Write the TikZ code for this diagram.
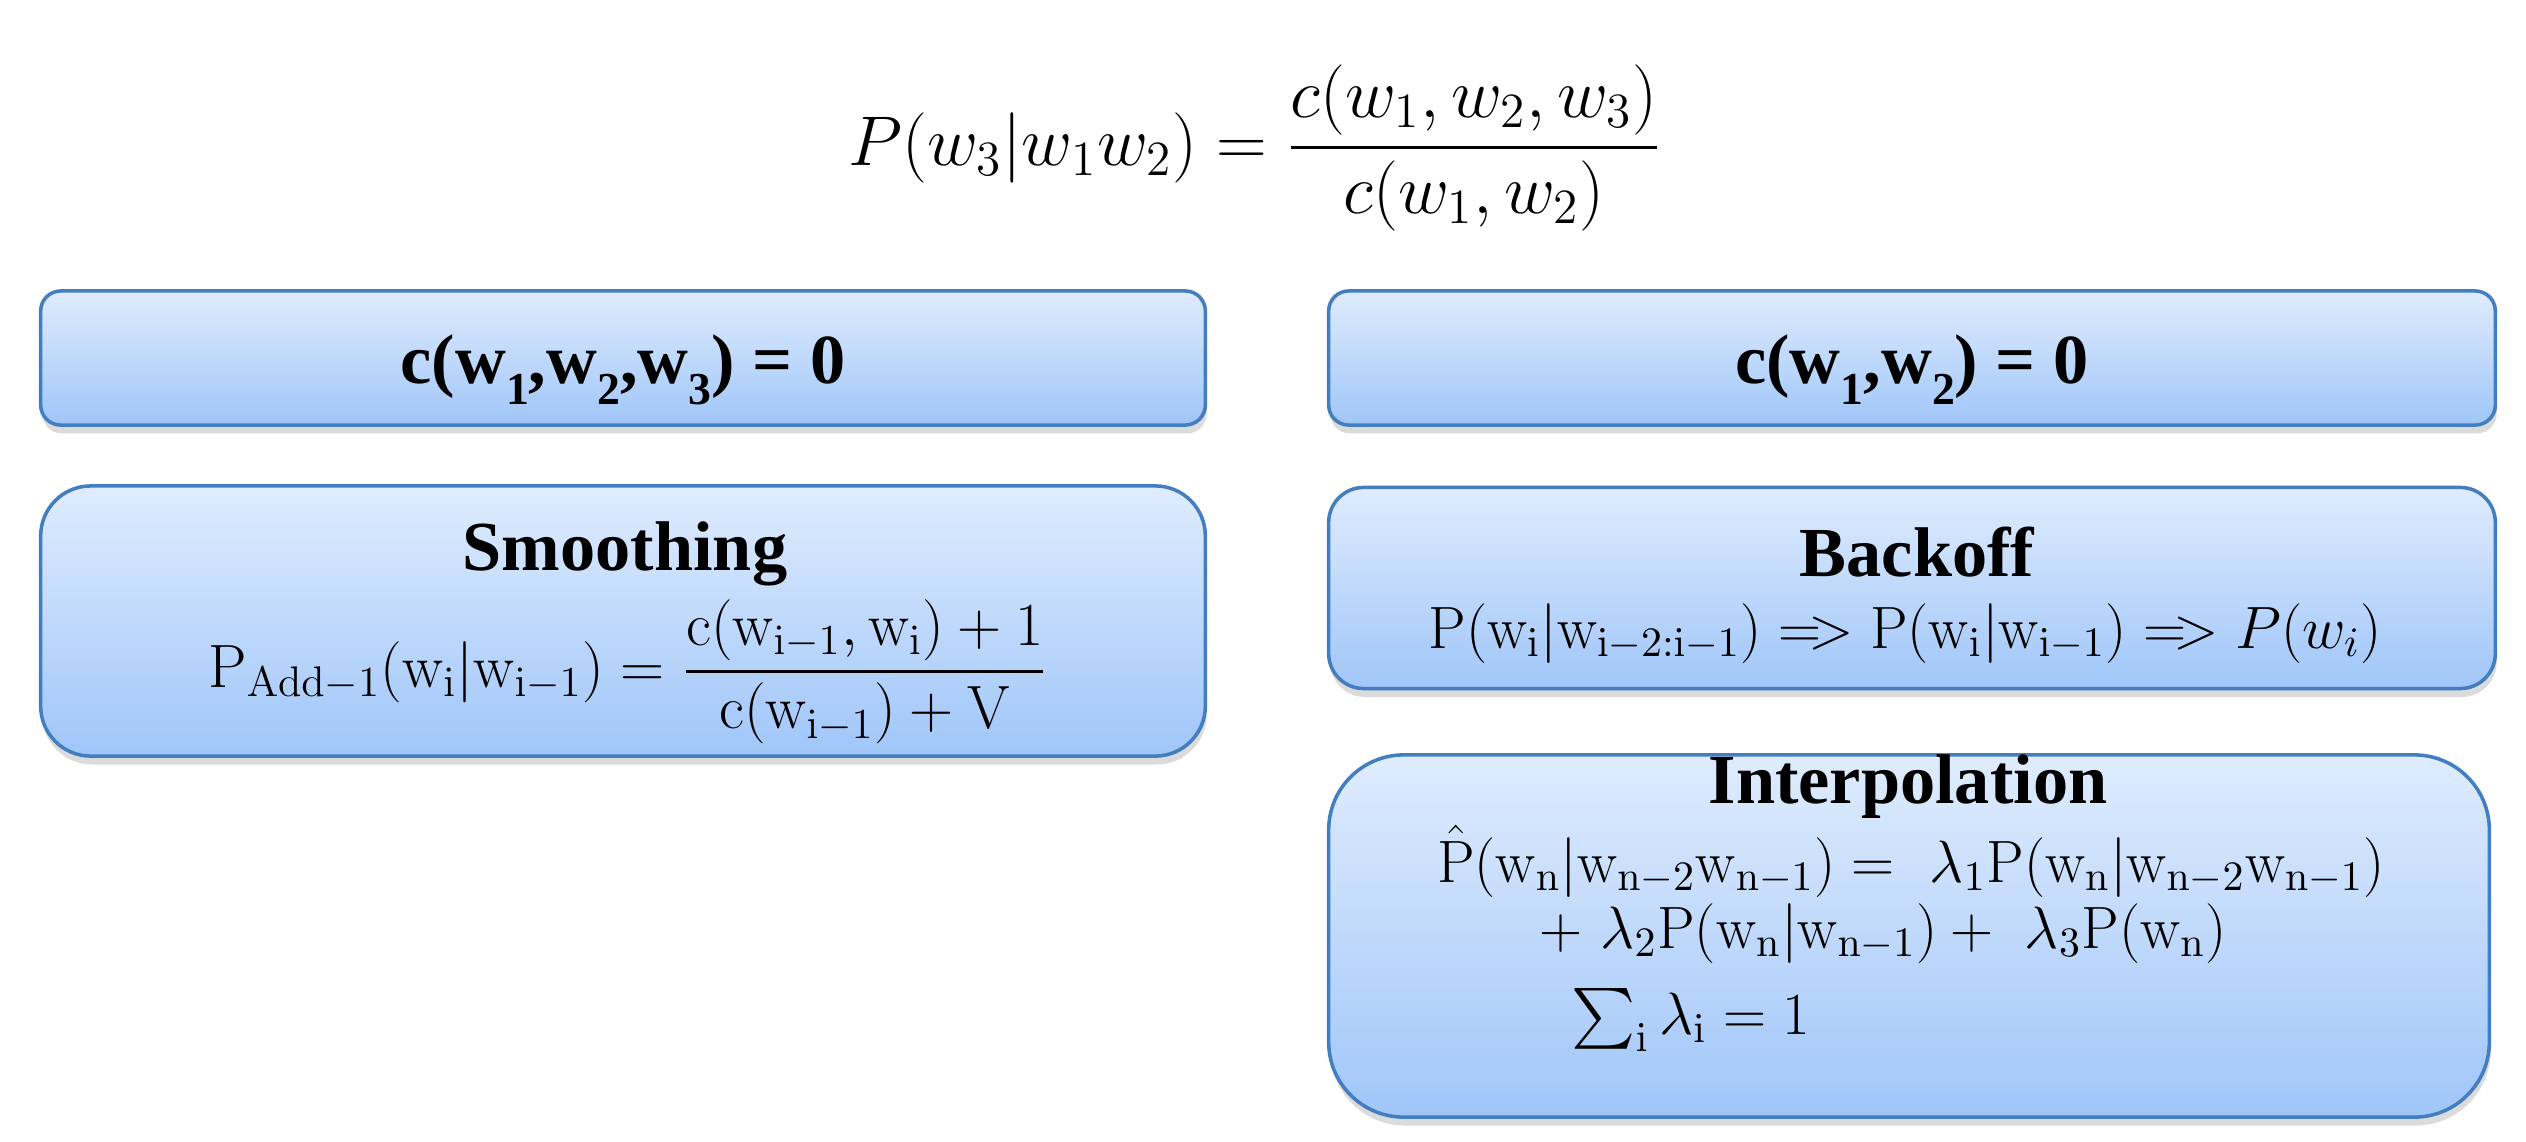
\RequirePackage{fix-cm}
\documentclass[tikz,border=0pt]{standalone}
\usepackage{amsmath}
\usepackage[no-math]{fontspec}
\newfontfamily\titlefont{Liberation Serif}
\usetikzlibrary{shadows}
\definecolor{boxtop}{RGB}{223,236,253}
\definecolor{boxbot}{RGB}{160,198,249}
\definecolor{boxedge}{RGB}{66,126,192}
\newcommand\tsub[1]{\raisebox{-0.3em}{\fontsize{13}{13}\selectfont #1}}
\newcommand\wsub[1]{\mathrm{w}_{\mathrm{#1}}}
\newcommand\thenarrow{\mathrel{=\mkern-4mu>}}
\begin{document}
\begin{tikzpicture}[x=0.01cm,y=-0.01cm,
  panel/.style={draw=boxedge, line width=1pt, top color=boxtop, bottom color=boxbot,
    drop shadow={shadow xshift=0.4pt, shadow yshift=-2.4pt, opacity=0.28}, inner sep=0pt},
  ttl/.style={font=\titlefont\bfseries\fontsize{20}{24}\selectfont, anchor=base, inner sep=0pt},
  frm/.style={font=\fontsize{17}{20}\selectfont, anchor=base, inner sep=0pt}]
\useasboundingbox[fill=white] (0,0) rectangle (2526,1142);

% panels
\node[panel, minimum width=11.64cm, minimum height=1.34cm, rounded corners=0.2cm] (condA) at (623,358) {};
\node[panel, minimum width=11.66cm, minimum height=1.34cm, rounded corners=0.2cm] (condB) at (1912,358) {};
\node[panel, minimum width=11.64cm, minimum height=2.70cm, rounded corners=0.5cm] (smooth) at (623,621) {};
\node[panel, minimum width=11.66cm, minimum height=2.01cm, rounded corners=0.35cm] (backoff) at (1912,588) {};
\node[panel, minimum width=11.60cm, minimum height=3.62cm, rounded corners=0.75cm] (interp) at (1909,936) {};

% top equation
\node[anchor=base, inner sep=0pt, font=\fontsize{20}{24}\selectfont] (main) at (1255,165)
  {$\displaystyle P(w_3|w_1w_2)=\frac{c(w_1,w_2,w_3)}{c(w_1,w_2)}$};

% conditions
\node[ttl] (ttlA) at (623,383) {c(w\tsub{1},w\tsub{2},w\tsub{3}) = 0};
\node[ttl] (ttlB) at (1912,383) {c(w\tsub{1},w\tsub{2}) = 0};

% smoothing
\node[ttl] (ttlS) at (625,570) {Smoothing};
\node[frm, font=\fontsize{17.4}{20}\selectfont] (frmS) at (628,687)
  {$\displaystyle \mathrm{P}_{\mathrm{Add}-1}(\wsub{i}|\wsub{i-1})=\frac{\mathrm{c}(\wsub{i-1},\wsub{i})+1}{\mathrm{c}(\wsub{i-1})+\mathrm{V}}$};

% backoff
\node[ttl] (ttlK) at (1917,576) {Backoff};
\node[frm] (frmK) at (1905,648)
  {$\mathrm{P}(\wsub{i}|\wsub{i-2:i-1}) \thenarrow \mathrm{P}(\wsub{i}|\wsub{i-1}) \thenarrow P(w_i)$};

% interpolation
\node[ttl] (ttlI) at (1908,803) {Interpolation};
\node[frm] (frmI1) at (1911,882)
  {$\hat{\mathrm{P}}(\wsub{n}|\wsub{n-2}\wsub{n-1}) =\ \lambda_1\mathrm{P}(\wsub{n}|\wsub{n-2}\wsub{n-1})$};
\node[frm] (frmI2) at (1883,948)
  {$+\ \lambda_2\mathrm{P}(\wsub{n}|\wsub{n-1}) +\ \lambda_3\mathrm{P}(\wsub{n})$};
\node[frm, anchor=base west] (frmI3) at (1571,1034)
  {$\textstyle\sum_{\mathrm{i}}\lambda_{\mathrm{i}} = 1$};
\end{tikzpicture}
\end{document}
